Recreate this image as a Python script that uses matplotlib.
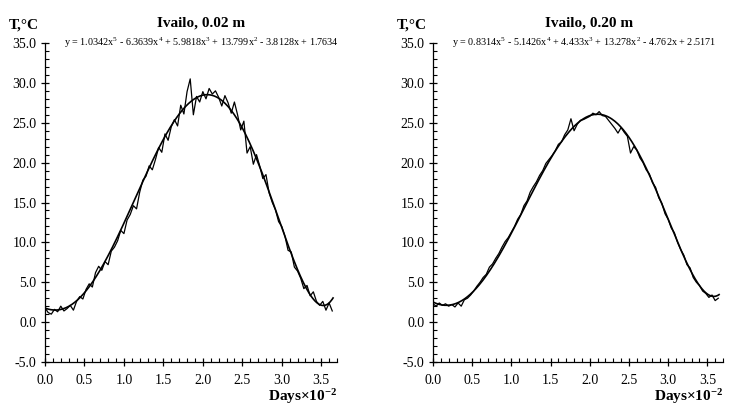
import numpy as np
import matplotlib
matplotlib.use("Agg")
import matplotlib.pyplot as plt
from matplotlib.ticker import MultipleLocator, FormatStrFormatter

plt.rcParams['font.family'] = ['Liberation Serif', 'DejaVu Serif']
plt.rcParams['mathtext.fontset'] = 'custom'
plt.rcParams['mathtext.rm'] = 'Liberation Serif'
plt.rcParams['mathtext.it'] = 'Liberation Serif:italic'
plt.rcParams['mathtext.bf'] = 'Liberation Serif:bold'

# Days x 10^-2, sampled every 4 days
step = 0.04
left_T = [1.8, 1.2, 1.0, 1.6, 1.3, 2.0, 1.4, 1.7, 2.1, 1.5,
          2.6, 3.2, 2.9, 4.1, 4.8, 4.4, 6.2, 7.0, 6.5, 7.6,
          7.2, 8.9, 9.4, 10.2, 11.5, 11.1, 12.8, 13.5, 14.6, 14.2,
          16.3, 17.8, 18.3, 19.6, 19.1, 20.4, 21.9, 21.3, 23.6, 22.8,
          24.5, 25.4, 24.6, 27.2, 26.1, 28.9, 30.5, 26.0, 28.3, 27.6,
          28.9, 28.0, 29.3, 28.6, 29.0, 28.2, 27.1, 28.4, 27.5, 26.2,
          27.6, 26.0, 24.1, 25.2, 21.2, 22.0, 19.8, 21.0, 19.6, 18.0,
          18.5, 16.2, 15.0, 14.1, 12.6, 12.0, 10.8, 9.0, 8.8, 6.9,
          6.4, 5.5, 4.2, 4.6, 3.3, 3.8, 2.6, 2.1, 2.6, 1.5,
          2.4, 1.4]
right_T = [2.3, 2.0, 2.4, 2.1, 2.3, 2.0, 2.2, 1.9, 2.4, 2.0,
           2.8, 3.0, 3.4, 3.9, 4.5, 5.0, 5.6, 6.0, 6.9, 7.3,
           8.0, 8.6, 9.4, 10.1, 10.6, 11.3, 12.0, 12.9, 13.5, 14.6,
           15.2, 16.3, 17.0, 17.6, 18.4, 19.0, 19.9, 20.4, 20.9, 21.5,
           22.3, 22.6, 23.5, 24.1, 25.5, 24.0, 24.8, 25.3, 25.4, 25.6,
           25.8, 26.2, 26.0, 26.4, 25.9, 25.8, 25.3, 24.8, 24.3, 23.7,
           24.4, 23.8, 23.3, 21.2, 22.0, 21.6, 20.6, 20.0, 19.1, 18.6,
           17.5, 16.9, 15.6, 14.9, 13.6, 12.9, 11.8, 11.2, 10.0, 9.1,
           8.4, 7.2, 6.8, 5.6, 5.0, 4.6, 3.9, 3.6, 3.1, 3.4,
           2.7, 3.0]

# trendline coefficients shown on the chart (x^5 ... x^0)
left_coef = [1.0342, -6.3639, 5.9818, 13.799, -3.8128, 1.7634]
right_coef = [0.8314, -5.1426, 4.433, 13.278, -4.762, 2.5171]

titles = ["Ivailo, 0.02 m", "Ivailo, 0.20 m"]
equations = [r"y = 1.0342x$^5$ - 6.3639x$^4$ + 5.9818x$^3$ + 13.799x$^2$ - 3.8128x + 1.7634",
             r"y = 0.8314x$^5$ - 5.1426x$^4$ + 4.433x$^3$ + 13.278x$^2$ - 4.762x + 2.5171"]

W, H = 730, 405
fig = plt.figure(figsize=(7.3, 4.05), dpi=100)

axes_px = [(45, 337), (433, 723)]
top_px, bot_px = 43, 362

for i, (T, coef) in enumerate([(left_T, left_coef), (right_T, right_coef)]):
    x0, x1 = axes_px[i]
    ax = fig.add_axes([x0 / W, (H - bot_px) / H, (x1 - x0) / W, (bot_px - top_px) / H])
    x = np.arange(len(T)) * step
    ax.plot(x, T, color='black', lw=0.9)
    xf = np.linspace(0, 3.65, 300)
    ax.plot(xf, np.polyval(coef, xf), color='black', lw=1.2)
    ax.set_xlim(0, 3.7)
    ax.set_ylim(-5, 35)
    ax.spines['top'].set_visible(False)
    ax.spines['right'].set_visible(False)
    ax.xaxis.set_major_locator(MultipleLocator(0.5))
    ax.xaxis.set_minor_locator(MultipleLocator(0.1))
    ax.yaxis.set_major_locator(MultipleLocator(5))
    ax.yaxis.set_minor_locator(MultipleLocator(1))
    ax.xaxis.set_major_formatter(FormatStrFormatter('%.1f'))
    ax.yaxis.set_major_formatter(FormatStrFormatter('%.1f'))
    ax.tick_params(which='major', direction='inout', length=6, width=0.9, labelsize=10, pad=3)
    ax.tick_params(which='minor', direction='in', length=3, width=0.8)
    ax.tick_params(axis='x', which='major', pad=6)
    for s in ['left', 'bottom']:
        ax.spines[s].set_linewidth(0.9)

    fig.text((x0 + 156) / W, 1 - 23 / H, titles[i], ha='center', va='center',
             fontsize=11, fontweight='bold')
    fig.text((x0 - 36) / W, 1 - 25 / H, "T,°C", ha='left', va='center',
             fontsize=11, fontweight='bold')
    fig.text((x0 + 19) / W, 1 - 43 / H, equations[i], ha='left', va='center', fontsize=7.3)
    fig.text(x1 / W, 1 - 401 / H, r"Days×10$^{\mathbf{-2}}$", ha='right', va='baseline',
             fontsize=11, fontweight='bold')

fig.savefig("out.png", dpi=100)
